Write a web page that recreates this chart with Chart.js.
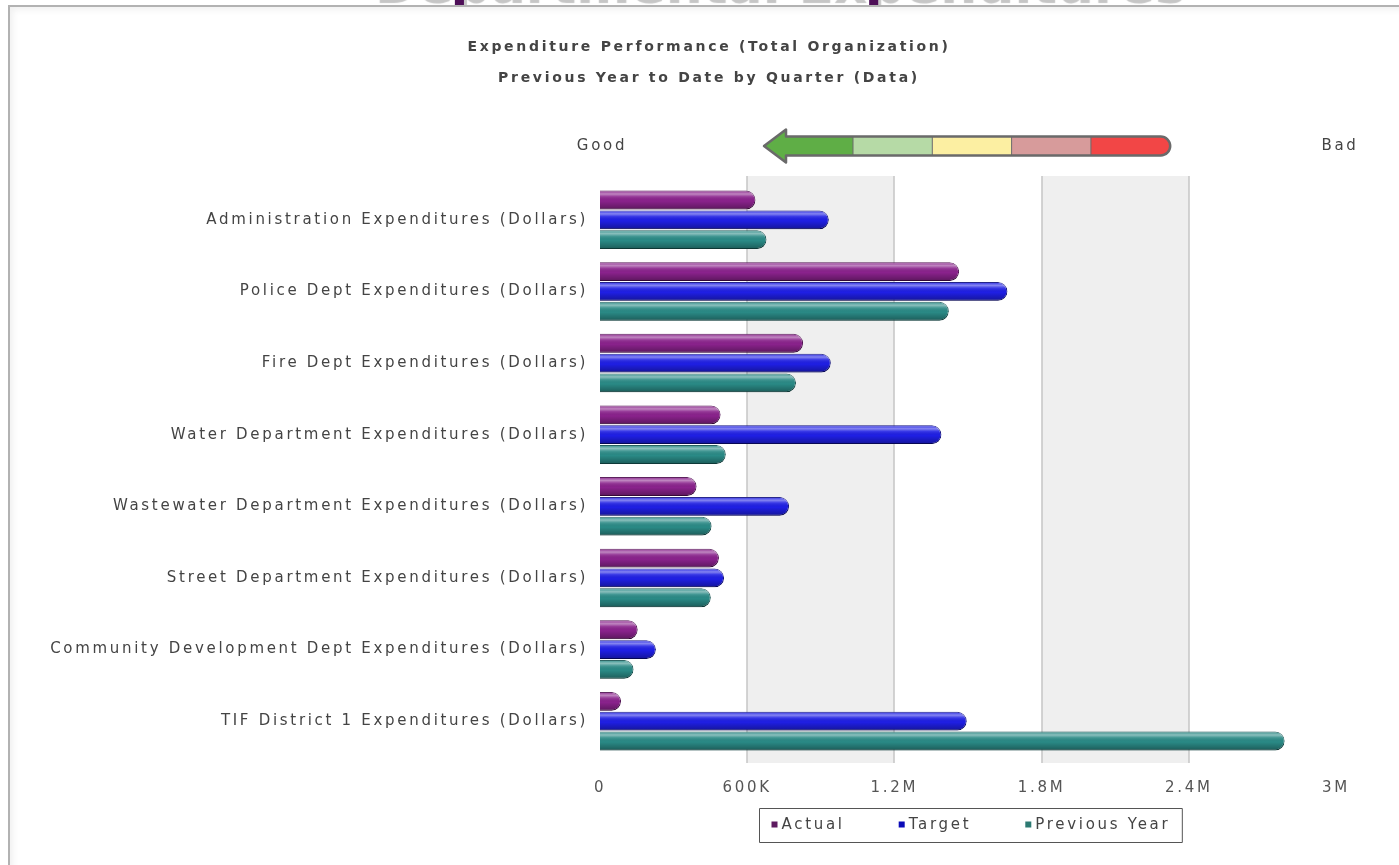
<!DOCTYPE html>
<html>
<head>
<meta charset="utf-8">
<title>Departmental Expenditures</title>
<script src="https://cdn.jsdelivr.net/npm/chart.js@4.4.1/dist/chart.umd.min.js"></script>
<style>
  html, body { margin: 0; padding: 0; background: #fff; overflow: hidden; }
  #page { position: relative; width: 1399px; height: 865px; }
  #heading { position: absolute; left: 0; top: 0; width: 1399px; height: 6px; overflow: hidden; }
  #heading span {
    position: absolute; left: 372px; top: -46px;
    font: bold 52px "DejaVu Sans", sans-serif; line-height: 52px; white-space: nowrap;
    color: #4e0f58; text-shadow: 3px 5px 1px #c6c6c6;
  }
  #frame {
    position: absolute; left: 8px; top: 5px; width: 1400px; height: 870px;
    border-left: 2px solid #b2b2b2; border-top: 2px solid #b2b2b2;
    box-shadow: inset 6px 6px 6px -3px #f1f1f1;
  }
  #chart-box { position: absolute; left: 0; top: 0; width: 1399px; height: 865px; }
</style>
</head>
<body>
<div id="page">
  <div id="heading"><span>Departmental Expenditures</span></div>
  <div id="frame"></div>
  <div id="chart-box"><canvas id="expenditure-chart"></canvas></div>
</div>
<script>
// expenditure chart data (dollars)
const categories = [
  'Administration Expenditures (Dollars)',
  'Police Dept Expenditures (Dollars)',
  'Fire Dept Expenditures (Dollars)',
  'Water Department Expenditures (Dollars)',
  'Wastewater Department Expenditures (Dollars)',
  'Street Department Expenditures (Dollars)',
  'Community Development Dept Expenditures (Dollars)',
  'TIF District 1 Expenditures (Dollars)'
];
const actualValues = [634000, 1464000, 828000, 492000, 394000, 485000, 154000, 86000];
const targetValues = [933000, 1661000, 941000, 1392000, 771000, 506000, 228000, 1495000];
const previousYearValues = [679000, 1422000, 799000, 513000, 455000, 452000, 137000, 2791000];

const seriesNames = ['Actual', 'Target', 'Previous Year'];
const seriesFill = ['#8a228c', '#1f1fe4', '#2a8a86'];
const seriesBorder = ['#4c0c4e', '#0a0a7c', '#145250'];
const legendMarkerColors = ['#5e1b60', '#0b0bb8', '#2c7a72'];

const xTickLabels = ['0', '600K', '1.2M', '1.8M', '2.4M', '3M'];
const titleLines = [
  'Expenditure Performance (Total Organization)',
  'Previous Year to Date by Quarter (Data)'
];
const gaugeEnds = ['Good', 'Bad'];
const gaugeColors = ['#5fae46', '#b6daa6', '#fcefa2', '#d79b9b', '#f24646'];

const labelFont = { family: '"DejaVu Sans", sans-serif', size: 15 };
const TRACKING = '2.7px';

// wide letter spacing for all canvas text, grey bands and grid lines
const bandsPlugin = {
  id: 'bands',
  beforeDraw(chart) {
    const { ctx, chartArea, scales: { x } } = chart;
    ctx.letterSpacing = TRACKING;
    const top = chartArea.top - 8, bottom = chartArea.bottom + 6;
    ctx.save();
    ctx.fillStyle = '#efefef';
    x.ticks.forEach((t, i) => {
      if (i % 2 === 1 && i < x.ticks.length - 1) {
        const a = x.getPixelForValue(t.value);
        const b = x.getPixelForValue(x.ticks[i + 1].value);
        ctx.fillRect(a, top, b - a, bottom - top);
      }
    });
    ctx.strokeStyle = '#c6c6c6';
    ctx.lineWidth = 1.5;
    x.ticks.forEach((t, i) => {
      if (i === 0 || i === x.ticks.length - 1) return;
      const px = Math.round(x.getPixelForValue(t.value));
      ctx.beginPath();
      ctx.moveTo(px, top);
      ctx.lineTo(px, bottom);
      ctx.stroke();
    });
    ctx.restore();
  }
};

// rounded-end path for one horizontal bar
function barPath(ctx, left, top, right, h) {
  const r = Math.min(h / 2, right - left);
  ctx.beginPath();
  ctx.moveTo(left, top);
  ctx.lineTo(right - r, top);
  ctx.arc(right - r, top + h / 2, r, -Math.PI / 2, Math.PI / 2);
  ctx.lineTo(left, top + h);
  ctx.closePath();
}

// cylinder shading on top of the bars
const glossPlugin = {
  id: 'gloss',
  afterDatasetsDraw(chart) {
    const { ctx } = chart;
    chart.data.datasets.forEach((ds, di) => {
      const meta = chart.getDatasetMeta(di);
      meta.data.forEach(bar => {
        const { x, y, base, height } = bar.getProps(['x', 'y', 'base', 'height'], true);
        const top = y - height / 2;
        ctx.save();
        barPath(ctx, Math.min(base, x), top, Math.max(base, x), height);
        ctx.clip();
        const g = ctx.createLinearGradient(0, top, 0, top + height);
        g.addColorStop(0, 'rgba(255,255,255,0.05)');
        g.addColorStop(0.18, 'rgba(255,255,255,0.45)');
        g.addColorStop(0.32, 'rgba(255,255,255,0.12)');
        g.addColorStop(0.55, 'rgba(0,0,0,0)');
        g.addColorStop(0.85, 'rgba(0,0,0,0.22)');
        g.addColorStop(1, 'rgba(0,0,0,0.35)');
        ctx.fillStyle = g;
        ctx.fillRect(Math.min(base, x), top, Math.abs(x - base), height);
        ctx.restore();
      });
    });
  }
};

// titles, good/bad arrow and the boxed legend under the axis
const decorPlugin = {
  id: 'decor',
  afterDraw(chart) {
    const { ctx, chartArea } = chart;
    ctx.save();
    ctx.letterSpacing = TRACKING;
    ctx.textBaseline = 'middle';

    // titles
    ctx.font = 'bold 14px "DejaVu Sans", sans-serif';
    ctx.fillStyle = '#444';
    ctx.textAlign = 'center';
    titleLines.forEach((line, i) => ctx.fillText(line, 709, 47 + i * 31));

    // gauge
    const cy = chartArea.top - 38;
    ctx.font = '15px "DejaVu Sans", sans-serif';
    ctx.fillText(gaugeEnds[0], chartArea.left + 2, cy);
    ctx.fillText(gaugeEnds[1], chartArea.right + 4, cy);

    const tip = 764, headBack = 786, segStart = 853, segW = 79.3, h = 19, headH = 33;
    const right = segStart + segW * (gaugeColors.length - 1);
    const outline = () => {
      ctx.beginPath();
      ctx.moveTo(tip, cy);
      ctx.lineTo(headBack, cy - headH / 2);
      ctx.lineTo(headBack, cy - h / 2);
      ctx.lineTo(right - h / 2, cy - h / 2);
      ctx.arc(right - h / 2, cy, h / 2, -Math.PI / 2, Math.PI / 2);
      ctx.lineTo(headBack, cy + h / 2);
      ctx.lineTo(headBack, cy + headH / 2);
      ctx.closePath();
    };
    ctx.save();
    outline();
    ctx.clip();
    gaugeColors.forEach((c, i) => {
      const a = i === 0 ? tip : segStart + segW * (i - 1);
      const b = segStart + segW * i;
      ctx.fillStyle = c;
      ctx.fillRect(a, cy - headH, b - a, headH * 2);
    });
    ctx.strokeStyle = '#6a6a6a';
    ctx.lineWidth = 1;
    for (let i = 0; i < gaugeColors.length - 1; i++) {
      const px = segStart + segW * i;
      ctx.beginPath();
      ctx.moveTo(px, cy - h / 2);
      ctx.lineTo(px, cy + h / 2);
      ctx.stroke();
    }
    ctx.restore();
    outline();
    ctx.lineJoin = 'round';
    ctx.lineWidth = 2.5;
    ctx.strokeStyle = '#6a6a6a';
    ctx.stroke();

    // legend
    ctx.font = '15px "DejaVu Sans", sans-serif';
    ctx.textAlign = 'left';
    const gap = 54, marker = 6, pad = 12;
    const widths = chart.data.datasets.map(ds => ctx.measureText(ds.label).width);
    const inner = widths.reduce((s, w) => s + marker + 4 + w, 0) + gap * (widths.length - 1);
    const boxW = inner + pad * 2, boxH = 34;
    const left = Math.round((chartArea.left + chartArea.right) / 2 + 2 - boxW / 2) + 0.5;
    const top = Math.round(chart.scales.x.bottom + 6) + 0.5;
    ctx.strokeStyle = '#555';
    ctx.lineWidth = 1;
    ctx.strokeRect(left, top, boxW, boxH);
    let px = left + pad;
    chart.data.datasets.forEach((ds, i) => {
      ctx.fillStyle = legendMarkerColors[i];
      ctx.fillRect(px, top + boxH / 2 - marker / 2 - 1, marker, marker);
      px += marker + 4;
      ctx.fillStyle = '#444';
      ctx.fillText(ds.label, px, top + boxH / 2);
      px += widths[i] + gap;
    });
    ctx.restore();
  }
};

const seriesValues = [actualValues, targetValues, previousYearValues];

new Chart(document.getElementById('expenditure-chart'), {
  type: 'bar',
  data: {
    labels: categories,
    datasets: seriesNames.map((name, i) => ({
      label: name,
      data: seriesValues[i],
      backgroundColor: seriesFill[i],
      borderColor: seriesBorder[i],
      borderWidth: 1,
      borderSkipped: 'start',
      borderRadius: 10,
      categoryPercentage: 0.83,
      barPercentage: 0.95
    }))
  },
  options: {
    indexAxis: 'y',
    responsive: true,
    maintainAspectRatio: false,
    animation: false,
    layout: { padding: { left: 0, right: 63, top: 184, bottom: 63 } },
    plugins: {
      legend: { display: false },
      tooltip: { enabled: false },
      title: { display: false }
    },
    scales: {
      x: {
        min: 0,
        max: 3000000,
        ticks: {
          stepSize: 600000,
          color: '#555',
          font: labelFont,
          padding: 22,
          callback: (v, i) => xTickLabels[i]
        },
        grid: { display: false, drawTicks: false },
        border: { display: false },
        afterFit: axis => { axis.height = 45; }
      },
      y: {
        ticks: { color: '#444', font: labelFont, padding: 4 },
        grid: { display: false },
        border: { display: false },
        afterFit: axis => { axis.width = 600; }
      }
    }
  },
  plugins: [bandsPlugin, glossPlugin, decorPlugin]
});
</script>
</body>
</html>
